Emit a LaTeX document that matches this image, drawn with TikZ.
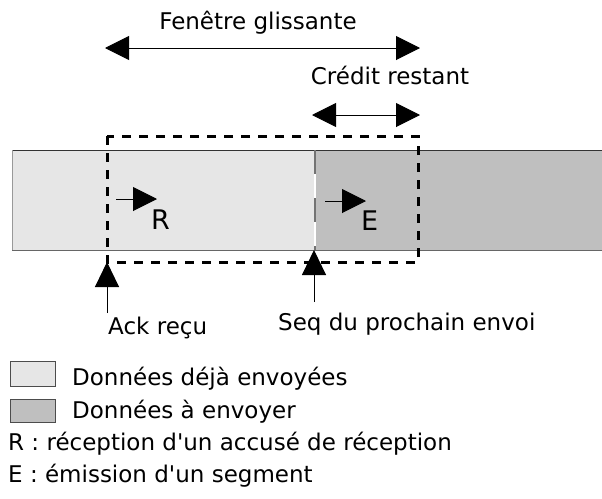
\documentclass[tikz,border=0pt]{standalone}
\usepackage{fontspec}
\setmainfont{DejaVu Sans}[Ligatures=TeXOff]
\usetikzlibrary{arrows.meta,positioning}
\definecolor{sentgray}{RGB}{230,230,230}
\definecolor{sendgray}{RGB}{191,191,191}

\begin{document}
\begin{tikzpicture}[x=1pt,y=-1pt,font=\fontsize{23}{27}\selectfont,
 lbl/.style={inner sep=0pt,anchor=base west},
 ttl/.style={inner sep=0pt,anchor=base},
 big/.style={inner sep=0pt,anchor=base west,font=\fontsize{27}{30}\selectfont},
 key/.style={draw=black!70,anchor=north west,minimum width=45pt,minimum height=25pt,inner sep=0pt},
 span/.style={{Triangle[length=24pt,width=24pt]}-{Triangle[length=24pt,width=24pt]},line width=1pt},
 ptr/.style={-{Triangle[length=25pt,width=24pt]},line width=1pt},
 ev/.style={-{Triangle[length=24pt,width=24pt]},line width=1pt}]
\useasboundingbox (0,0) rectangle (602,498);
% bande de donnees
\fill[sentgray] (12,150) rectangle (315,250);
\fill[sendgray] (315,150) rectangle (602,250);
\draw[black!80] (12,150) -- (602,150);
\draw[black!60] (12,250) -- (602,250);
\draw[black!40] (12,150) -- (12,250);
\draw[white,line width=2pt] (315,150) -- (315,250);
\draw[black!55,line width=1.5pt,dash pattern=on 24pt off 24pt] (315,150) -- (315,250);
% fenetre
\draw[line width=3pt,dash pattern=on 9pt off 8pt] (107,136) rectangle (418,262);
\node[ttl] (fen) at (258,29) {Fenêtre glissante};
\coordinate (fenl) at (105,48); \coordinate (fenr) at (420,48);
\draw[span] (fenl) -- (fenr);
\node[ttl] (cred) at (390,84) {Crédit restant};
\coordinate (credl) at (312,115); \coordinate (credr) at (420,115);
\draw[span] (credl) -- (credr);
% evenements
\coordinate (r0) at (116,199); \coordinate (r1) at (157,199);
\draw[ev] (r0) -- (r1);
\node[big] (rl) at (151,229) {R};
\coordinate (e0) at (325,201); \coordinate (e1) at (366,201);
\draw[ev] (e0) -- (e1);
\node[big] (el) at (361,230) {E};
% pointeurs
\coordinate (ack0) at (107,313); \coordinate (ack1) at (107,262);
\draw[ptr] (ack0) -- (ack1);
\node[lbl] (ack) at (108,334) {Ack reçu};
\coordinate (seq0) at (314,302); \coordinate (seq1) at (314,250);
\draw[ptr] (seq0) -- (seq1);
\node[lbl] (seq) at (278,330) {Seq du prochain envoi};
% legende
\node[key,fill=sentgray] (k1) at (10,361) {};
\node[lbl] (t1) at (72,385) {Données déjà envoyées};
\node[key,fill=sendgray,minimum height=23pt] (k2) at (10,399) {};
\node[lbl] (t2) at (72,418) {Données à envoyer};
\node[lbl] (t3) at (8,450) {R : réception d'un accusé de réception};
\node[lbl] (t4) at (8,482) {E : émission d'un segment};
\end{tikzpicture}
\end{document}
